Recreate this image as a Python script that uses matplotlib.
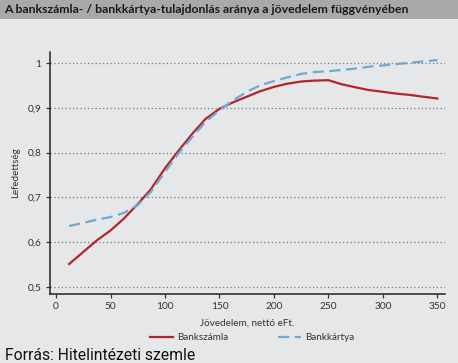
import numpy as np
import matplotlib
matplotlib.use('Agg')
import matplotlib.pyplot as plt
from matplotlib.patches import Rectangle

# data
income = [12, 25, 37, 50, 62, 75, 87, 100, 112, 125, 137, 150, 162, 175,
          187, 200, 212, 225, 237, 250, 262, 275, 287, 300, 312, 325, 337, 350]
szamla = [0.551, 0.578, 0.603, 0.626, 0.652, 0.685, 0.718, 0.765, 0.803, 0.842,
          0.875, 0.898, 0.912, 0.925, 0.937, 0.947, 0.954, 0.959, 0.961, 0.962,
          0.953, 0.946, 0.940, 0.936, 0.932, 0.929, 0.925, 0.921]
kartya = [0.636, 0.643, 0.650, 0.656, 0.665, 0.683, 0.712, 0.757, 0.797, 0.835,
          0.868, 0.895, 0.916, 0.936, 0.950, 0.960, 0.968, 0.976, 0.980, 0.982,
          0.985, 0.988, 0.992, 0.995, 0.998, 1.001, 1.004, 1.007]
yticks = [0.5, 0.6, 0.7, 0.8, 0.9, 1.0]
xticks = [0, 50, 100, 150, 200, 250, 300, 350]

bg = '#e6e7e8'
plt.rcParams['font.family'] = ['Lato', 'DejaVu Sans']

fig = plt.figure(figsize=(4.58, 3.63), dpi=100, facecolor=bg)

# title bar
fig.patches.append(Rectangle((0, 1 - 19/363), 1, 19/363, transform=fig.transFigure,
                             facecolor='#a7a9ab', edgecolor='none', zorder=0))
fig.text(4/458, 1 - 9.5/363, 'A bankszámla- / bankkártya-tulajdonlás aránya a jövedelem függvényében',
         fontsize=8.8, fontweight='bold', color='#1a1a1a', va='center', ha='left')

ax = fig.add_axes([49.5/458, 1 - 294/363, (445 - 49.5)/458, (294 - 52)/363])
ax.set_facecolor(bg)

ax.plot(income, szamla, color='#b3252b', lw=1.6, label='Bankszámla')
ax.plot(income, kartya, color='#6ea9d4', lw=1.6, ls=(0, (5, 2.5)), label='Bankkártya')

ax.set_xlim(-6, 357)
ax.set_ylim(0.484, 1.025)
ax.set_xticks(xticks)
ax.set_yticks(yticks)
ax.set_yticklabels([f'{v:.1f}'.replace('.', ',') if v != 1 else '1' for v in yticks])
ax.yaxis.grid(True, ls=(0, (1, 2)), color='#7a7a7a', lw=0.9)
ax.set_axisbelow(True)
for s in ['top', 'right']:
    ax.spines[s].set_visible(False)
for s in ['left', 'bottom']:
    ax.spines[s].set_color('#222222')
    ax.spines[s].set_linewidth(1.1)
ax.tick_params(labelsize=7.3, colors='#333333', length=3, width=0.9, pad=3)

ax.set_xlabel('Jövedelem, nettó eFt.', fontsize=7.1, color='#333333', labelpad=5)
ax.set_ylabel('Lefedettség', fontsize=7, color='#333333', labelpad=5)

fig.legend(loc='center', bbox_to_anchor=(252/458, 1 - 338/363), ncol=2, frameon=False,
           fontsize=7.1, handlelength=2.4, columnspacing=5, handletextpad=0.4,
           labelcolor='#333333')

fig.text(5/458, 1 - 355/363, 'Forrás: Hitelintézeti szemle', fontsize=11.3,
         family=['Roboto', 'DejaVu Sans'], color='#111111', va='center', ha='left')

fig.savefig('out.png', dpi=100, facecolor=bg)
